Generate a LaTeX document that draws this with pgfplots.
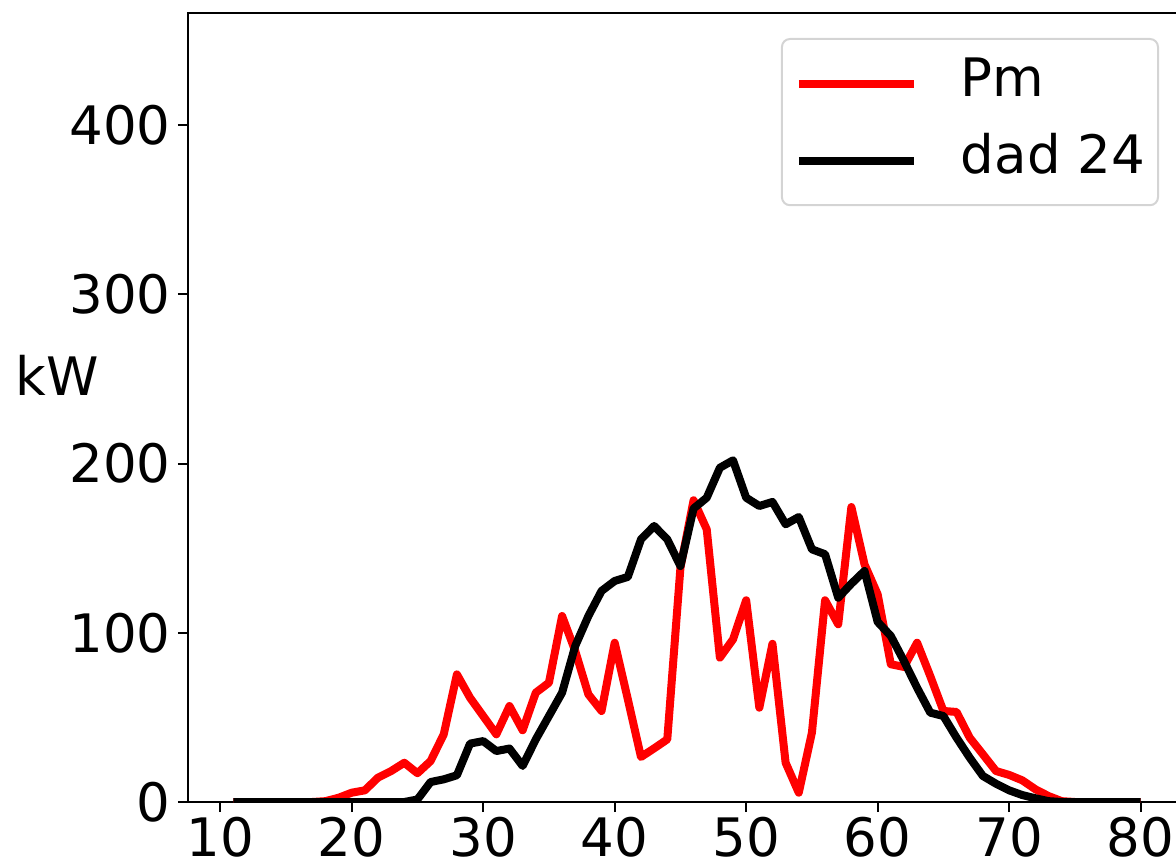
\documentclass[border=0pt]{standalone}
\usepackage{fontspec}
\setmainfont{DejaVu Sans}
\usepackage{pgfplots}
\usepackage{pgfplotstable}
\pgfplotsset{compat=1.18}

% hourly power, kW
\pgfplotstableread{
x   pm     dad
11  0      0
12  0      0
13  0      0
14  0      0
15  0      0
16  0      0
17  0      0
18  0.5    0
19  2.5    0
20  5.5    0
21  6.9    0
22  14.4   0
23  18.3   0
24  23.2   0
25  17     1.5
26  24.2   11.8
27  40     13.4
28  75.4   15.8
29  61.6   34.5
30  50.8   36
31  40     30.1
32  56.7   31.6
33  42.4   21.3
34  64.6   37
35  70.5   50.8
36  109.9  64.6
37  89.2   92.2
38  63.6   109.9
39  53.8   124.7
40  94.1   130.6
41  60.7   133
42  26.6   155.2
43  31.7   163.1
44  37     155.2
45  138.4  139.4
46  178.3  173.4
47  161.1  179.8
48  85.3   197.5
49  96.1   201.9
50  119.2  179.8
51  55.7   174.9
52  93.5   177.3
53  23.2   164.1
54  5.5    168.4
55  41     149.3
56  119.2  146.4
57  105    120.7
58  174.3  129
59  140.4  136.5
60  122.7  106.4
61  81.4   98.1
62  79.8   83.3
63  94.1   67.5
64  74.4   52.8
65  53.8   50.8
66  53.2   38
67  38     26.2
68  28.2   15.4
69  18.3   10.8
70  16     6.9
71  12.8   4.1
72  7.5    2.2
73  3.5    0.5
74  0.5    0
75  0      0
76  0      0
77  0      0
78  0      0
79  0      0
80  0      0
}\powertable

\newcommand{\lblfont}{\fontsize{26.5}{30}\selectfont}

\begin{document}
\begin{tikzpicture}
\useasboundingbox (-94pt,-32.5pt) rectangle (494pt,401pt);
\clip (-94pt,-32.5pt) rectangle (494pt,401pt);
\begin{axis}[
  at={(0pt,0pt)}, anchor=south west,
  scale only axis, width=499pt, height=394.5pt,
  xmin=7.55, xmax=83.45, ymin=0, ymax=466.2,
  xtick={10,20,...,80}, ytick={0,100,...,400},
  xtick pos=lower, ytick pos=left,
  tick align=outside, major tick length=5pt,
  every tick/.style={black, line width=1pt},
  axis line style={line width=1pt},
  /pgf/number format/assume math mode=true,
  tick label style={font=\lblfont},
  xticklabel style={inner sep=0pt, yshift=-2.5pt},
  yticklabel style={inner sep=0pt, xshift=-3.5pt},
  ylabel={kW},
  every axis y label/.style={at={(axis description cs:0,0.541)}, anchor=east,
    xshift=-44.5pt, font=\lblfont, inner sep=0pt},
  legend image code/.code={\draw[#1] (0pt,0pt) -- (57.5pt,0pt);},
  legend style={at={(1,1)}, anchor=north east, xshift=-13.5pt, yshift=-12.5pt,
    draw=black!17, line width=1pt, rounded corners=4pt, font=\lblfont,
    inner xsep=6.5pt, inner ysep=9.2pt, row sep=12.3pt, column sep=21.5pt,
    nodes={inner sep=0pt, text height=19.5pt, text depth=6.7pt}},
  legend cell align=left,
]
\addplot[red, line width=4pt, line join=round] table[x=x, y=pm] {\powertable};
\addlegendentry{Pm}
\addplot[black, line width=4pt, line join=round] table[x=x, y=dad] {\powertable};
\addlegendentry{dad 24}
\end{axis}
\end{tikzpicture}
\end{document}
